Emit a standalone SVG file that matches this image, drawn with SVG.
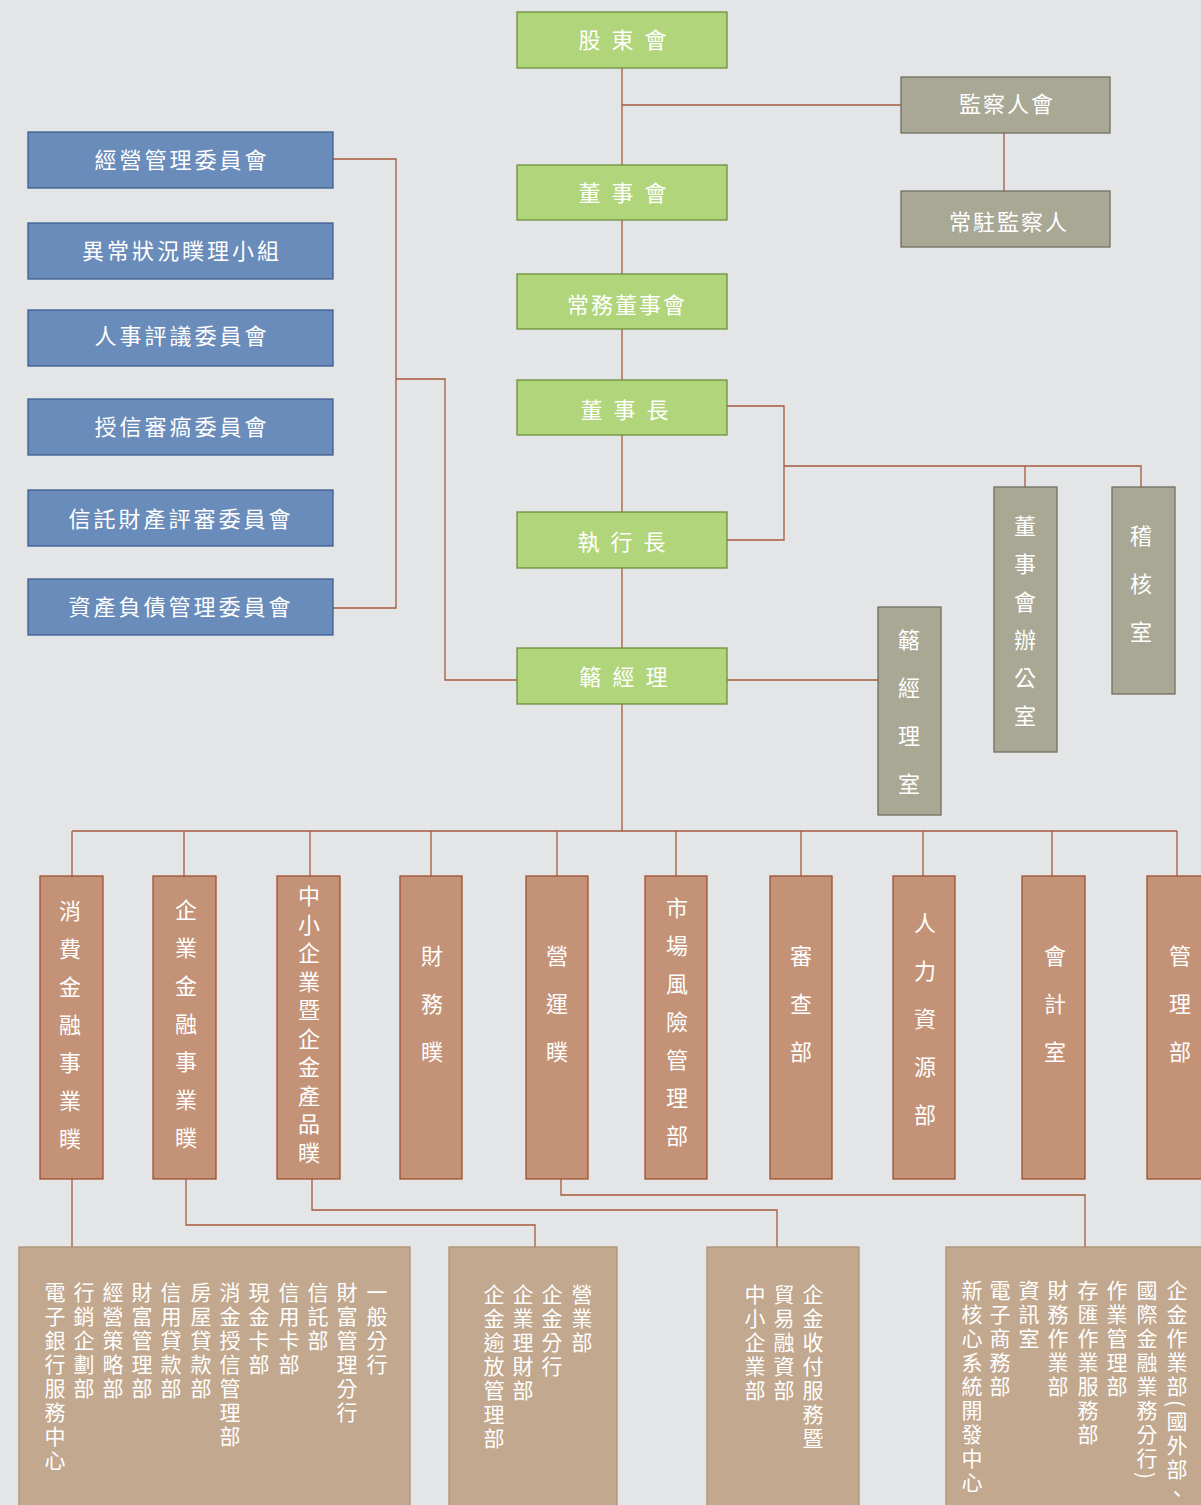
<svg xmlns="http://www.w3.org/2000/svg" width="1201" height="1505" viewBox="0 0 1201 1505">
<style>
text{font-family:"Noto Sans CJK TC","Noto Sans CJK SC",sans-serif;fill:#fff;font-size:22px}
.h{text-anchor:middle;dominant-baseline:central;letter-spacing:2px}
.b .h{letter-spacing:3px}
.v{writing-mode:vertical-rl;letter-spacing:2px}
.g rect{fill:#b0d57a;stroke:#6d8f3d;stroke-width:1.3}
.b rect{fill:#6a8cba;stroke:#3d5f91;stroke-width:1.3}
.s rect{fill:#a9a895;stroke:#6f6f60;stroke-width:1.3}
.o rect{fill:#c49377;stroke:#9e5230;stroke-width:1.3}
.t rect{fill:#c2a88e;stroke:#ad9276;stroke-width:1.3}
.t text{font-size:21px;letter-spacing:3px}
#connectors path{fill:none;stroke:#a55a3c;stroke-width:1.3}
</style>
<rect x="0" y="0" width="1201" height="1505" fill="#e4e5e7"/>
<g id="connectors">
<path d="M622,68V831"/>
<path d="M622,105H901"/>
<path d="M1004,133V191"/>
<path d="M333,159H396V608H333"/>
<path d="M396,379H445V680H517"/>
<path d="M727,406H784V540H727"/>
<path d="M784,466H1141V487"/>
<path d="M1025,466V487"/>
<path d="M727,680H878"/>
<path d="M72,831H1177"/>
<path d="M72,831V876M184,831V876M310,831V876M431,831V876M557,831V876M676,831V876M801,831V876M923,831V876M1052,831V876M1177,831V876"/>
<path d="M72,1179V1247"/>
<path d="M186,1179V1225H535V1247"/>
<path d="M312,1179V1210H777V1247"/>
<path d="M561,1179V1195H1085V1247"/>
</g>
<g id="n-gudong" class="g"><rect x="517" y="12" width="210" height="56"/><text class="h" x="624" y="38" style="letter-spacing:3px">股 東 會</text></g>
<g id="n-dongshihui" class="g"><rect x="517" y="165" width="210" height="55"/><text class="h" x="624" y="191" style="letter-spacing:3px">董 事 會</text></g>
<g id="n-changwu" class="g"><rect x="517" y="274" width="210" height="55"/><text class="h" x="627" y="303">常務董事會</text></g>
<g id="n-dongshizhang" class="g"><rect x="517" y="380" width="210" height="55"/><text class="h" x="626" y="408" style="letter-spacing:3px">董 事 長</text></g>
<g id="n-zhixing" class="g"><rect x="517" y="512" width="210" height="56"/><text class="h" x="623" y="540" style="letter-spacing:3px">執 行 長</text></g>
<g id="n-zongjingli" class="g"><rect x="517" y="648" width="210" height="56"/><text class="h" x="625" y="675" style="letter-spacing:3px">簵 經 理</text></g>
<g id="n-jiancha" class="s"><rect x="901" y="77" width="209" height="56"/><text class="h" x="1007" y="102">監察人會</text></g>
<g id="n-changzhu" class="s"><rect x="901" y="191" width="209" height="56"/><text class="h" x="1009" y="220">常駐監察人</text></g>
<g id="n-b1" class="b"><rect x="28" y="132" width="305" height="56"/><text class="h" x="182" y="158">經營管理委員會</text></g>
<g id="n-b2" class="b"><rect x="28" y="223" width="305" height="56"/><text class="h" x="182" y="249">異常狀況瞨理小組</text></g>
<g id="n-b3" class="b"><rect x="28" y="310" width="305" height="56"/><text class="h" x="182" y="334">人事評議委員會</text></g>
<g id="n-b4" class="b"><rect x="28" y="399" width="305" height="56"/><text class="h" x="182" y="425">授信審瘑委員會</text></g>
<g id="n-b5" class="b"><rect x="28" y="490" width="305" height="56"/><text class="h" x="181" y="517">信託財產評審委員會</text></g>
<g id="n-b6" class="b"><rect x="28" y="579" width="305" height="56"/><text class="h" x="181" y="605">資產負債管理委員會</text></g>
<g id="n-zjls" class="s"><rect x="878" y="607" width="63" height="208"/><text class="v" x="909" y="629" style="letter-spacing:26px">簵經理室</text></g>
<g id="n-dsbgs" class="s"><rect x="994" y="487" width="63" height="265"/><text class="v" x="1025" y="515" style="letter-spacing:16px">董事會辦公室</text></g>
<g id="n-jihe" class="s"><rect x="1112" y="487" width="63" height="207"/><text class="v" x="1141" y="525" style="letter-spacing:26px">稽核室</text></g>
<g id="n-o1" class="o"><rect x="40" y="876" width="63" height="303"/><text class="v" x="70" y="900" style="letter-spacing:16px">消費金融事業瞨</text></g>
<g id="n-o2" class="o"><rect x="153" y="876" width="63" height="303"/><text class="v" x="186" y="899" style="letter-spacing:16px">企業金融事業瞨</text></g>
<g id="n-o3" class="o"><rect x="277" y="876" width="63" height="303"/><text class="v" x="309" y="885" style="letter-spacing:6.5px">中小企業暨企金產品瞨</text></g>
<g id="n-o4" class="o"><rect x="400" y="876" width="62" height="303"/><text class="v" x="432" y="945" style="letter-spacing:26px">財務瞨</text></g>
<g id="n-o5" class="o"><rect x="526" y="876" width="62" height="303"/><text class="v" x="557" y="945" style="letter-spacing:26px">營運瞨</text></g>
<g id="n-o6" class="o"><rect x="645" y="876" width="62" height="303"/><text class="v" x="677" y="897" style="letter-spacing:16px">市場風險管理部</text></g>
<g id="n-o7" class="o"><rect x="770" y="876" width="62" height="303"/><text class="v" x="801" y="945" style="letter-spacing:26px">審查部</text></g>
<g id="n-o8" class="o"><rect x="893" y="876" width="62" height="303"/><text class="v" x="925" y="912" style="letter-spacing:26px">人力資源部</text></g>
<g id="n-o9" class="o"><rect x="1022" y="876" width="63" height="303"/><text class="v" x="1055" y="945" style="letter-spacing:26px">會計室</text></g>
<g id="n-o10" class="o"><rect x="1147" y="876" width="63" height="303"/><text class="v" x="1180" y="945" style="letter-spacing:26px">管理部</text></g>
<g id="n-t1" class="t"><rect x="19" y="1247" width="391" height="270"/>
<text class="v" x="377" y="1282">一般分行</text>
<text class="v" x="347" y="1282">財富管理分行</text>
<text class="v" x="318" y="1282">信託部</text>
<text class="v" x="289" y="1282">信用卡部</text>
<text class="v" x="259" y="1282">現金卡部</text>
<text class="v" x="230" y="1282">消金授信管理部</text>
<text class="v" x="201" y="1282">房屋貸款部</text>
<text class="v" x="171" y="1282">信用貸款部</text>
<text class="v" x="142" y="1282">財富管理部</text>
<text class="v" x="113" y="1282">經營策略部</text>
<text class="v" x="84" y="1282">行銷企劃部</text>
<text class="v" x="55" y="1282">電子銀行服務中心</text>
</g>
<g id="n-t2" class="t"><rect x="449" y="1247" width="168" height="270"/>
<text class="v" x="582" y="1284">營業部</text>
<text class="v" x="552" y="1284">企金分行</text>
<text class="v" x="523" y="1284">企業理財部</text>
<text class="v" x="494" y="1284">企金逾放管理部</text>
</g>
<g id="n-t3" class="t"><rect x="707" y="1247" width="152" height="270"/>
<text class="v" x="813" y="1284">企金收付服務暨</text>
<text class="v" x="784" y="1284">貿易融資部</text>
<text class="v" x="755" y="1284">中小企業部</text>
</g>
<g id="n-t4" class="t"><rect x="946" y="1247" width="270" height="270"/>
<text class="v" x="1177" y="1280">企金作業部(國外部、</text>
<text class="v" x="1147" y="1280">國際金融業務分行)</text>
<text class="v" x="1117" y="1280">作業管理部</text>
<text class="v" x="1088" y="1280">存匯作業服務部</text>
<text class="v" x="1058" y="1280">財務作業部</text>
<text class="v" x="1029" y="1280">資訊室</text>
<text class="v" x="1000" y="1280">電子商務部</text>
<text class="v" x="972" y="1280">新核心系統開發中心</text>
</g>
</svg>
